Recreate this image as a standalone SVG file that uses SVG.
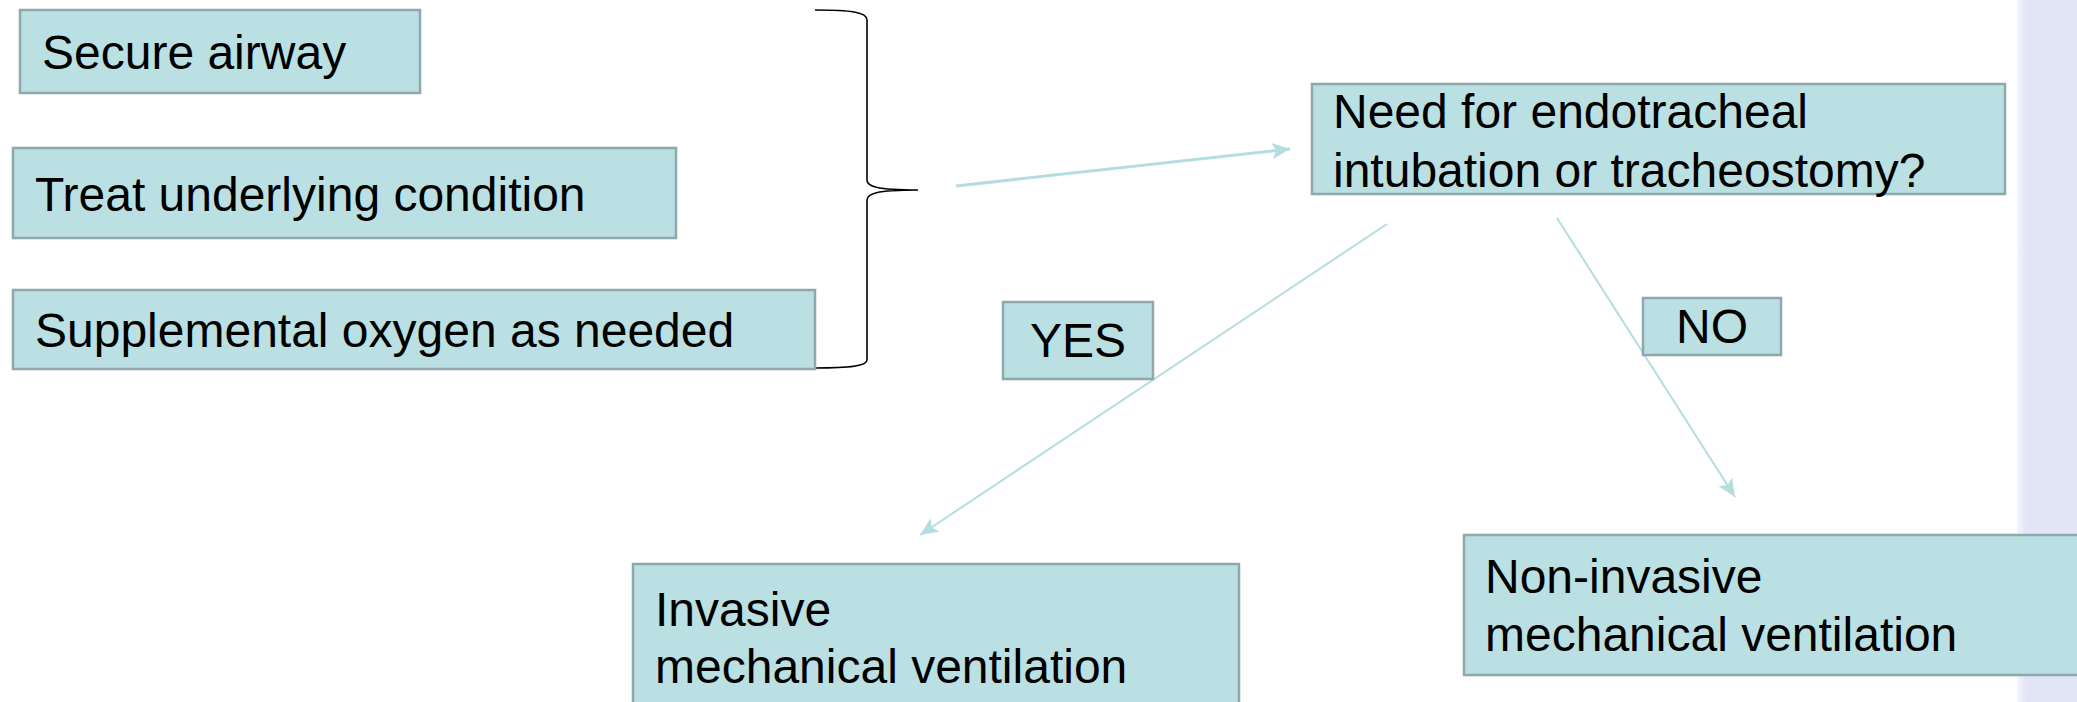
<svg xmlns="http://www.w3.org/2000/svg" width="2077" height="702" viewBox="0 0 2077 702">
  <defs>
    <style>
      .box { fill: #bbe0e3; stroke: #8fa8ab; stroke-width: 2.5; }
      .t { font-family: "Liberation Sans", Arial, sans-serif; font-size: 48px; fill: #000; }
      .conn { stroke: #b5dde0; fill: none; }
      .brace { stroke: #000; stroke-width: 1.6; fill: none; }
    </style>
    <marker id="arr" markerUnits="userSpaceOnUse" markerWidth="20" markerHeight="16" refX="18" refY="8" orient="auto">
      <path d="M0,0 L18,8 L0,16 L4,8 Z" fill="#b5dde0"/>
    </marker>
    <linearGradient id="panel" x1="0" y1="0" x2="1" y2="0">
      <stop offset="0" stop-color="#f4f5fb"/>
      <stop offset="0.15" stop-color="#e1e5f6"/>
      <stop offset="1" stop-color="#e1e5f6"/>
    </linearGradient>
  </defs>

  <rect x="0" y="0" width="2077" height="702" fill="#ffffff"/>
  <rect x="2017" y="0" width="60" height="702" fill="url(#panel)"/>

  <g id="connectors">
    <path class="brace" d="M815,10 C850,10 867,12 867,20 L867,180 C867,186 875,190 918,190 C875,190 867,194 867,200 L867,360 C867,366 850,368 815,368"/>
    <line class="conn" x1="956" y1="186" x2="1290" y2="149" stroke-width="3" marker-end="url(#arr)"/>
    <line class="conn" x1="1387" y1="224" x2="920" y2="535" stroke-width="2" marker-end="url(#arr)"/>
    <line class="conn" x1="1557" y1="218" x2="1735" y2="497" stroke-width="2" marker-end="url(#arr)"/>
  </g>

  <g id="secure-airway">
    <rect class="box" x="20" y="10" width="400" height="83"/>
    <text class="t" x="42" y="69">Secure airway</text>
  </g>

  <g id="treat-underlying">
    <rect class="box" x="13" y="148" width="663" height="90"/>
    <text class="t" x="35" y="211">Treat underlying condition</text>
  </g>

  <g id="supplemental-oxygen">
    <rect class="box" x="13" y="290" width="802" height="79"/>
    <text class="t" x="35" y="347">Supplemental oxygen as needed</text>
  </g>

  <g id="need-intubation">
    <rect class="box" x="1312" y="84" width="693" height="110"/>
    <text class="t" x="1333" y="128">Need for endotracheal</text>
    <text class="t" x="1333" y="187">intubation or tracheostomy?</text>
  </g>

  <g id="yes-label">
    <rect class="box" x="1003" y="302" width="150" height="77"/>
    <text class="t" x="1078" y="357" text-anchor="middle">YES</text>
  </g>

  <g id="no-label">
    <rect class="box" x="1643" y="298" width="138" height="57"/>
    <text class="t" x="1712" y="343" text-anchor="middle">NO</text>
  </g>

  <g id="invasive">
    <rect class="box" x="633" y="564" width="606" height="160"/>
    <text class="t" x="655" y="626">Invasive</text>
    <text class="t" x="655" y="683">mechanical ventilation</text>
  </g>

  <g id="non-invasive">
    <rect class="box" x="1464" y="535" width="640" height="140"/>
    <text class="t" x="1485" y="593">Non-invasive</text>
    <text class="t" x="1485" y="651">mechanical ventilation</text>
  </g>
</svg>
